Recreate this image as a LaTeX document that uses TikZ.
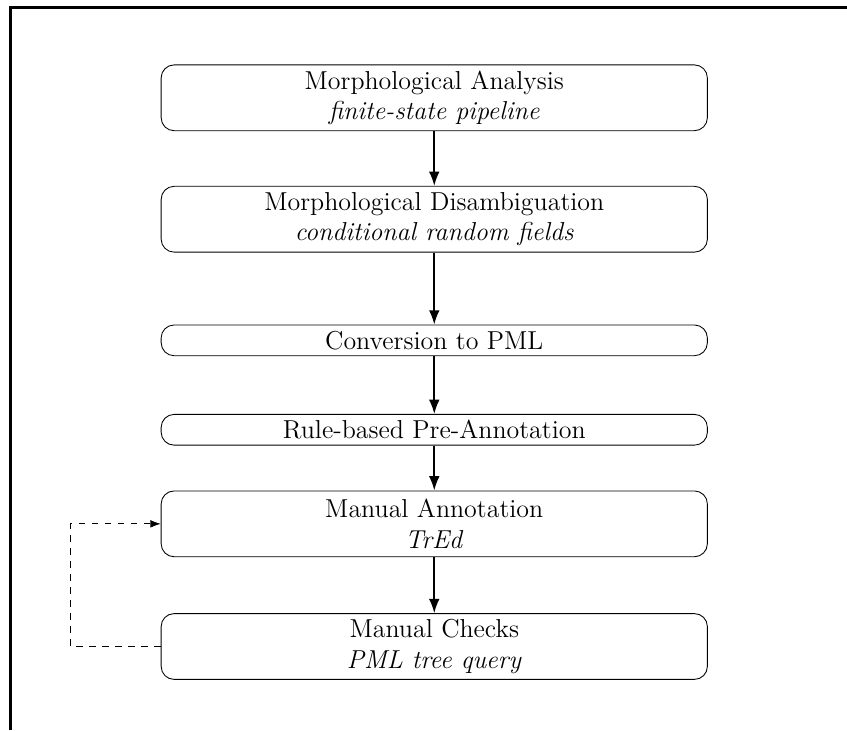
\documentclass[tikz,border=0pt]{standalone}
\usepackage{tikz}
\usetikzlibrary{arrows.meta, positioning}

\begin{document}
\begin{tikzpicture}[
    every node/.style={align=center, font=\large},
    stage/.style={draw, rectangle, rounded corners=6pt, minimum width=8.88cm, minimum height=1.07cm, inner sep=2pt},
    slim/.style={draw, rectangle, rounded corners=6pt, minimum width=8.88cm, minimum height=0.5cm, inner sep=2pt},
    flow/.style={->, >=Latex, thick},
    back/.style={->, >=Latex, dashed}
]

% Page and frame
\useasboundingbox (0,0) rectangle (13.77,-11.87);
\draw[line width=1.4pt] (0.17,-11.87) |- (13.77,-0.12);

% Pipeline stages
\node[stage] (morphAnalysis) at (7.06,-1.59) {Morphological Analysis\\ \textit{finite-state pipeline}};
\node[stage, below=0.89cm of morphAnalysis] (morphDisamb) {Morphological Disambiguation\\ \textit{conditional random fields}};
\node[slim, below=1.17cm of morphDisamb] (convPML) {Conversion to PML};
\node[slim, below=0.94cm of convPML] (preAnnot) {Rule-based Pre-Annotation};
\node[stage, below=0.73cm of preAnnot] (manualAnnot) {Manual Annotation\\ \textit{TrEd}};
\node[stage, below=0.91cm of manualAnnot] (manualChecks) {Manual Checks\\ \textit{PML tree query}};

% Flow edges
\draw[flow] (morphAnalysis) -- (morphDisamb);
\draw[flow] (morphDisamb) -- (convPML);
\draw[flow] (convPML) -- (preAnnot);
\draw[flow] (preAnnot) -- (manualAnnot);
\draw[flow] (manualAnnot) -- (manualChecks);

% Feedback loop
\draw[back] (manualChecks.west) -- ++(-1.46,0) |- (manualAnnot.west);
\end{tikzpicture}
\end{document}
